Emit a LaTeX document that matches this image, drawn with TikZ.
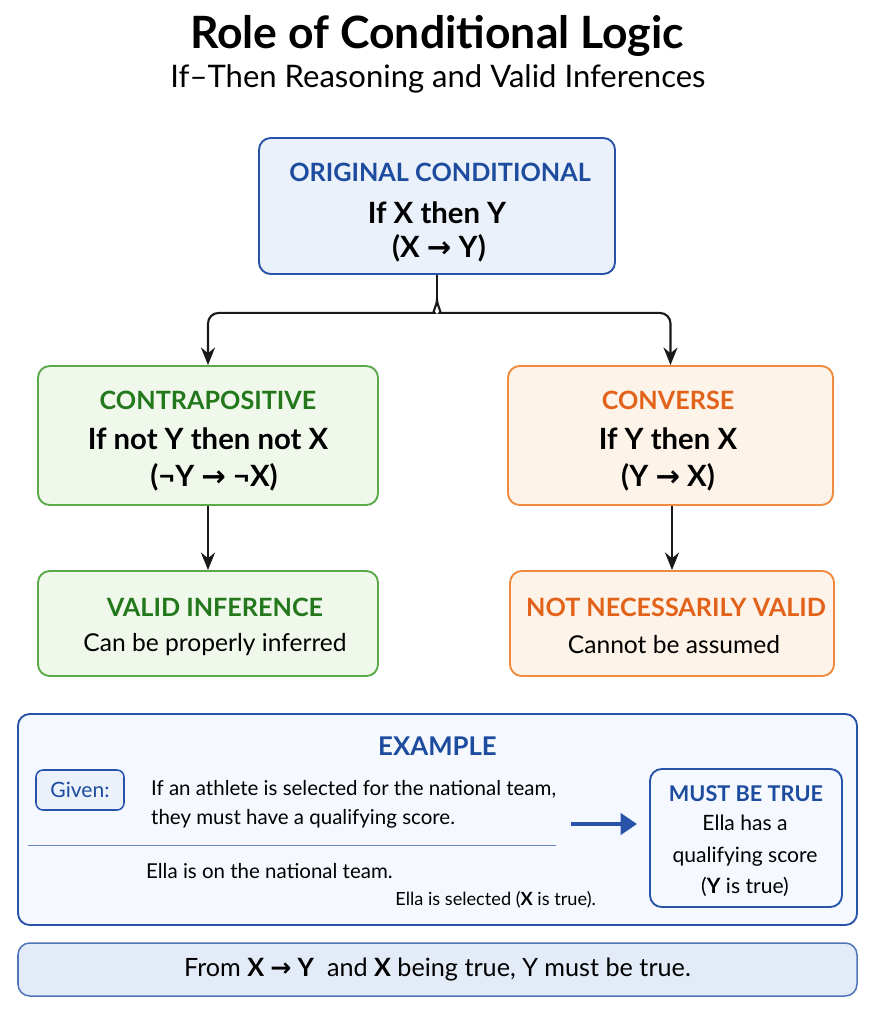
\documentclass[tikz,border=0pt]{standalone}
\usepackage{fontspec}
\setmainfont{Lato}
\newfontfamily\symfont{DejaVu Sans}
\usetikzlibrary{arrows.meta}

\definecolor{bluetxt}{HTML}{1D4C9E}
\definecolor{blueline}{HTML}{2753A8}
\definecolor{bluefill}{HTML}{EAF1FB}
\definecolor{bluepale}{HTML}{F5F8FE}
\definecolor{bluebar}{HTML}{E3EBF8}
\definecolor{greentxt}{HTML}{23781C}
\definecolor{greenline}{HTML}{5AAA4A}
\definecolor{greenfill}{HTML}{EFF8EB}
\definecolor{orangetxt}{HTML}{E2621A}
\definecolor{orangeline}{HTML}{F08A3C}
\definecolor{orangefill}{HTML}{FEF3E8}

\newcommand{\px}{0.03cm}
\newcommand{\imp}{{\symfont\char"2192}}

\tikzset{
  box/.style 2 args={draw, rounded corners=10pt, line width=1.6pt,
    minimum width=#1*\px, minimum height=#2*\px, align=center, inner sep=0pt},
  link/.style={line width=1.8pt, draw=black!90, -{Stealth[length=15pt,width=12pt]}},
  head/.style={font=\fontsize{21.5}{30}\selectfont\bfseries},
  main/.style={font=\fontsize{25}{32}\selectfont\bfseries},
  sub/.style={font=\fontsize{21}{24}\selectfont},
  extext/.style={font=\fontsize{17.5}{24.5}\selectfont},
}

\begin{document}
\begin{tikzpicture}[x=\px, y=-\px]
  \useasboundingbox (0,0) rectangle (875,1013);

  % title
  \node (title) at (437,36) {\fontsize{38}{44}\selectfont\bfseries Role of Conditional Logic};
  \node (subtitle) at (438,79) {\fontsize{26.5}{30}\selectfont If--Then Reasoning and Valid Inferences};

  % the conditional and its two forms
  \node[box={356}{136}, draw=blueline, fill=bluefill] (orig) at (437,206) {};
  \node[head, text=bluetxt] (origA) at (440,172) {ORIGINAL CONDITIONAL};
  \node[main] (origB) at (437,213) {If X then Y};
  \node[main] (origC) at (439,248) {(X \imp{} Y)};

  \node[box={340}{139}, draw=greenline, fill=greenfill] (contra) at (208,435.5) {};
  \node[head, text=greentxt] (contraA) at (208,400) {CONTRAPOSITIVE};
  \node[main] (contraB) at (208,439) {If not Y then not X};
  \node[main] (contraC) at (214,477) {(¬Y \imp{} ¬X)};

  \node[box={325}{139}, draw=orangeline, fill=orangefill] (conv) at (670.5,435.5) {};
  \node[head, text=orangetxt] (convA) at (668,400) {CONVERSE};
  \node[main] (convB) at (668,439) {If Y then X};
  \node[main] (convC) at (668,477) {(Y \imp{} X)};

  \node[box={340}{105}, draw=greenline, fill=greenfill] (valid) at (208,623.5) {};
  \node[head, text=greentxt] (validA) at (215,607) {VALID INFERENCE};
  \node[sub] (validB) at (215,645) {Can be properly inferred};

  \node[box={324}{105}, draw=orangeline, fill=orangefill] (notval) at (672,623.5) {};
  \node[head, text=orangetxt] (notvalA) at (676,607) {NOT NECESSARILY VALID};
  \node[sub] (notvalB) at (674,645) {Cannot be assumed};

  % connectors
  \draw[line width=1.8pt, draw=black!90] (orig.south) -- ++(0,24) coordinate (split);
  \draw[link, rounded corners=9pt] (split) to[out=-90,in=0] ++(-13,14) -| (contra.north);
  \draw[link, rounded corners=9pt] (split) to[out=-90,in=180] ++(13,14) -| (conv.north);
  \draw[link] (contra.south) -- (valid.north);
  \draw[link] (conv.south -| notval.north) -- (notval.north);

  % example
  \node[box={839}{211}, draw=blueline, fill=bluepale] (example) at (437.5,819.5) {};
  \node[font=\fontsize{22}{26}\selectfont\bfseries, text=bluetxt] (exA) at (437.5,746) {EXAMPLE};
  \node[box={88}{40}, rounded corners=6pt, line width=1.3pt, draw=blueline, fill=bluefill,
        text=bluetxt, font=\fontsize{18}{22}\selectfont] (given) at (80,790) {Given:};
  \node[anchor=west, align=left, extext] (rule) at (147,804)
    {If an athlete is selected for the national team,\\they must have a qualifying score.};
  \draw[blueline!70, line width=0.8pt] (28,845) -- (556,845);
  \node[anchor=west, extext] (fact) at (142,871) {Ella is on the national team.};
  \node[anchor=east, font=\fontsize{15.5}{18}\selectfont] (fact2) at (600,900) {Ella is selected (\textbf{X} is true).};

  \node[box={192}{138}, draw=blueline, fill=bluepale] (must) at (746,838) {};
  \node[font=\fontsize{18.5}{22}\selectfont\bfseries, text=bluetxt] (mustA) at (746,794) {MUST BE TRUE};
  \node[align=center, font=\fontsize{18}{27}\selectfont] (mustB) at (745,856)
    {Ella has a\\qualifying score\\(\textbf{Y} is true)};

  \coordinate (arrA) at (571,824);
  \coordinate (arrB) at (637,824);
  \draw[blueline, line width=4pt, -{Triangle[length=14pt,width=18pt]}] (arrA) -- (arrB);

  % conclusion
  \node[box={839}{53}, line width=1.3pt, draw=blueline!80, fill=bluebar,
        font=\fontsize{21.5}{26}\selectfont] (concl) at (437.5,969.5)
    {From \textbf{X \imp{} Y} \ and \textbf{X} being true, Y must be true.};
\end{tikzpicture}
\end{document}
